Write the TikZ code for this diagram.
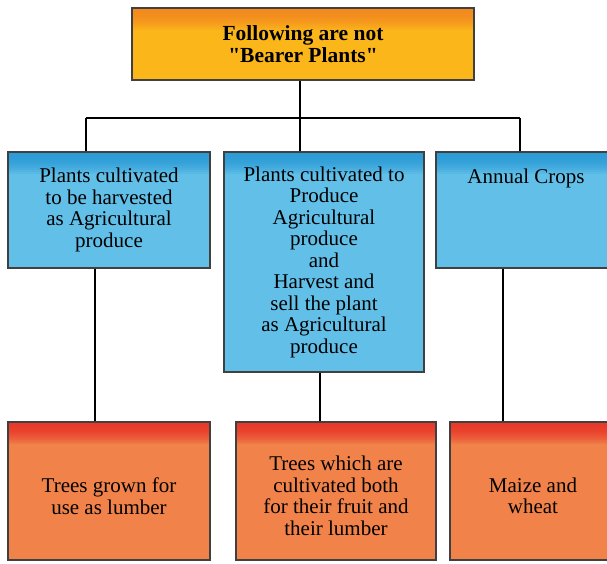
\documentclass[tikz,border=0pt]{standalone}
\usepackage{fontspec}
\setmainfont{Liberation Serif}
\usepackage{tikz}
\usetikzlibrary{positioning}
\usepackage{xcolor}

\definecolor{titletop}{HTML}{F28A1E}
\definecolor{titlebody}{HTML}{FBB61A}
\definecolor{bluetop}{HTML}{2B9BD6}
\definecolor{bluebody}{HTML}{62BFE8}
\definecolor{redtop}{HTML}{E8392A}
\definecolor{redbody}{HTML}{F1824A}

\begin{document}
\begin{tikzpicture}[
  x=1pt,y=1pt,
  txt/.style={align=center,font=\fontsize{21}{21.5}\selectfont},
  box/.style={rectangle,draw=black!75,line width=1.8pt,align=center,
              font=\fontsize{21}{21.5}\selectfont,inner sep=4pt},
  strip/.style 2 args={path picture={
      \foreach \i in {0,...,11}{
        \pgfmathtruncatemacro\mix{100-\i*\i*100/121}
        \fill[#1!\mix!#2]
          ([yshift=-2*\i pt]path picture bounding box.north west) rectangle
          ([yshift=-2*\i pt-2.4pt]path picture bounding box.north east);}}},
  titlebox/.style={box,fill=titlebody,strip={titletop}{titlebody},font=\fontsize{21.5}{22}\selectfont\bfseries},
  bluebox/.style={box,fill=bluebody,strip={bluetop}{bluebody}},
  redbox/.style={box,fill=redbody,strip={redtop}{redbody}},
  link/.style={line width=1.6pt,black}
]
\useasboundingbox (0,0) rectangle (607,564);
\clip (0,0) rectangle (607,564);
% top
\node[titlebox,minimum width=342,minimum height=72] (title) at (303,520)
  {Following are not\\\textquotedbl Bearer Plants\textquotedbl};
% middle row
\node[bluebox,minimum width=202,minimum height=116] (plantA) at (109,354)
  {Plants cultivated\\to be harvested\\as Agricultural\\produce};
\node[bluebox,minimum width=200,minimum height=220] (plantB) at (324,302)
  {Plants cultivated to\\Produce\\Agricultural\\produce\\and\\Harvest and\\sell the plant\\as Agricultural\\produce};
\node[bluebox,minimum width=180,minimum height=116,
      label={[txt,anchor=north,yshift=-14pt]north:Annual Crops}] (crops) at (526,354) {};
% bottom row
\node[redbox,minimum width=202,minimum height=138] (lumber) at (109,73) {};
\node[redbox,minimum width=200,minimum height=138] (both) at (336,73) {};
\node[redbox,minimum width=166,minimum height=138] (maize) at (533,73) {};
\node[txt] (lumbertext) at ([yshift=-5pt]lumber.center)
  {Trees grown for\\use as lumber};
\node[txt] (bothtext) at ([yshift=-5pt]both.center)
  {Trees which are\\cultivated both\\for their fruit and\\their lumber};
\node[txt] (maizetext) at ([yshift=-5pt]maize.center)
  {Maize and\\wheat};
% connectors
\coordinate (stem) at (300,0);
\coordinate (barL) at (86,446);
\coordinate (barR) at (520,446);
\coordinate (downA) at (95,0);
\coordinate (downB) at (320,0);
\coordinate (downC) at (503,0);
\draw[link] (title.south -| stem) -- (barL -| stem);
\draw[link] (barL) -- (barR);
\draw[link] (barL) -- (barL |- plantA.north);
\draw[link] (barL -| stem) -- (stem |- plantB.north);
\draw[link] (barR) -- (barR |- crops.north);
\draw[link] (downA |- plantA.south) -- (downA |- lumber.north);
\draw[link] (downB |- plantB.south) -- (downB |- both.north);
\draw[link] (downC |- crops.south) -- (downC |- maize.north);
\end{tikzpicture}
\end{document}
